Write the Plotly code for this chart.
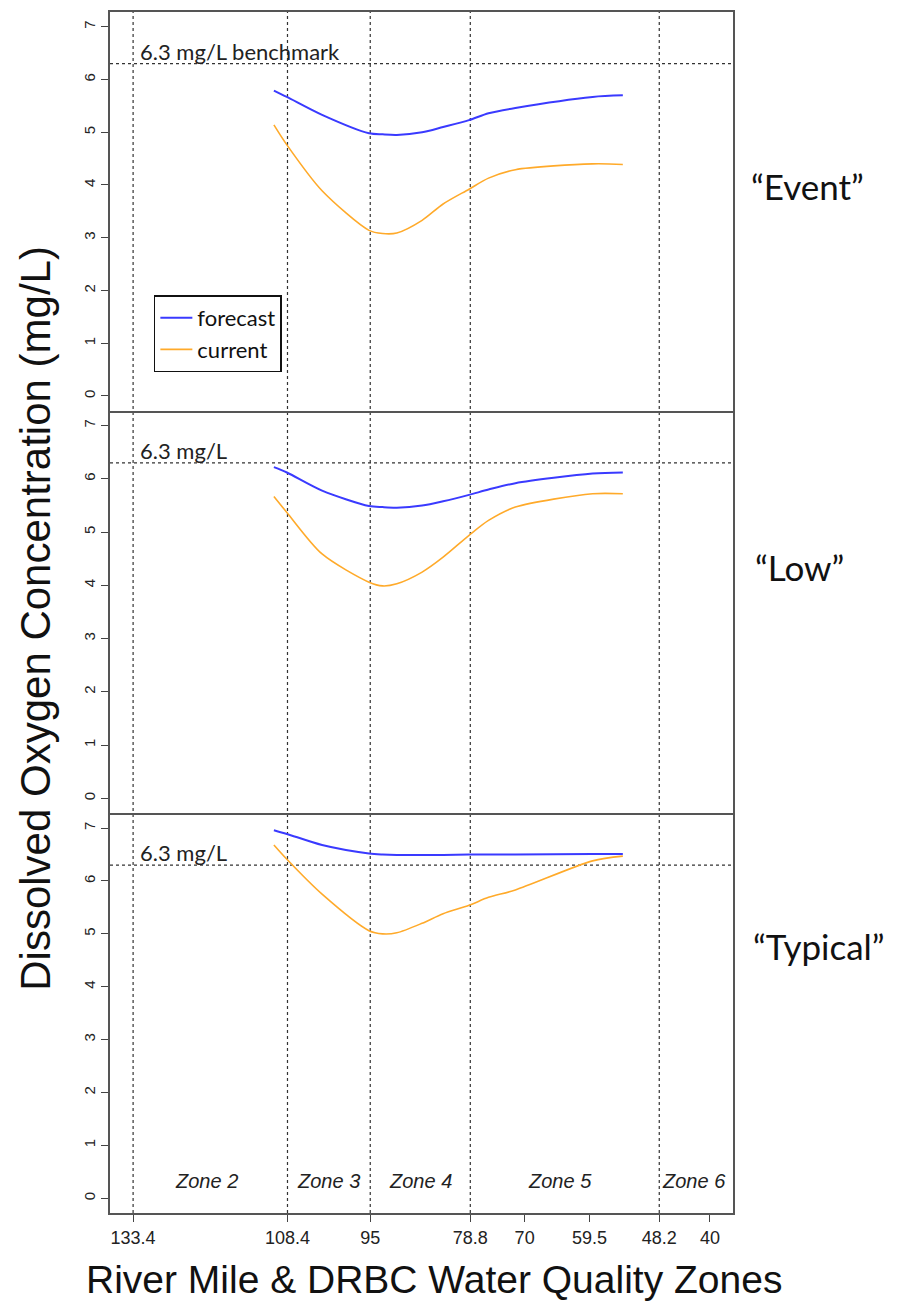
import plotly.graph_objects as go
from plotly.subplots import make_subplots

# ---- data ----
river_mile = [110.6, 108.5, 102.8, 95.2, 93.0, 90.7, 86.6, 83.2, 79.0, 75.85, 71.5, 59.0, 54.1]

event_forecast = [5.79, 5.67, 5.33, 4.98, 4.96, 4.95, 5.00, 5.10, 5.23, 5.36, 5.46, 5.67, 5.70]
event_current = [5.14, 4.76, 3.89, 3.14, 3.08, 3.09, 3.33, 3.64, 3.92, 4.13, 4.29, 4.40, 4.39]

low_forecast = [6.22, 6.12, 5.78, 5.49, 5.47, 5.46, 5.50, 5.58, 5.70, 5.80, 5.92, 6.10, 6.12]
low_current = [5.67, 5.37, 4.59, 4.06, 3.99, 4.03, 4.25, 4.53, 4.94, 5.22, 5.47, 5.72, 5.72]

typical_forecast = [6.96, 6.89, 6.68, 6.52, 6.50, 6.49, 6.49, 6.49, 6.50, 6.50, 6.50, 6.51, 6.51]
typical_current = [6.68, 6.41, 5.75, 5.06, 5.00, 5.02, 5.20, 5.38, 5.54, 5.69, 5.83, 6.38, 6.47]

x_ticks = [133.4, 108.4, 95, 78.8, 70, 59.5, 48.2, 40]
x_tick_labels = ["133.4", "108.4", "95", "78.8", "70", "59.5", "48.2", "40"]
zone_bounds = [133.4, 108.4, 95, 78.8, 48.2]
zone_names = ["Zone 2", "Zone 3", "Zone 4", "Zone 5", "Zone 6"]
zone_centers = [121.5, 101.7, 86.9, 64.2, 42.6]
benchmark = 6.3
benchmark_labels = ["6.3 mg/L benchmark", "6.3 mg/L", "6.3 mg/L"]
scenario_names = ["\u201cEvent\u201d", "\u201cLow\u201d", "\u201cTypical\u201d"]
y_ticks = [0, 1, 2, 3, 4, 5, 6, 7]

BLUE = "#3a3aff"
ORANGE = "#ffaa2a"

fig = make_subplots(rows=3, cols=1, shared_xaxes=True, vertical_spacing=0)

panels = [(event_forecast, event_current), (low_forecast, low_current),
          (typical_forecast, typical_current)]
for i, (fc, cu) in enumerate(panels):
    fig.add_trace(go.Scatter(x=river_mile, y=fc, mode="lines", name="forecast",
                             line=dict(color=BLUE, width=2, shape="spline", smoothing=0.8),
                             showlegend=(i == 0)), row=i + 1, col=1)
    fig.add_trace(go.Scatter(x=river_mile, y=cu, mode="lines", name="current",
                             line=dict(color=ORANGE, width=1.6, shape="spline", smoothing=0.8),
                             showlegend=(i == 0)), row=i + 1, col=1)

domains = [[0.668, 1.0], [0.3328, 0.668], [0.0, 0.3328]]
yrange = [-0.28, 7.28]
xrange_ = [137.14, 36.26]

layout_axes = {}
for i in range(3):
    yname = "yaxis" if i == 0 else f"yaxis{i+1}"
    xname = "xaxis" if i == 0 else f"xaxis{i+1}"
    layout_axes[yname] = dict(
        domain=domains[i], range=yrange, tickvals=y_ticks, ticks="outside",
        ticklen=7, tickcolor="#444", tickangle=-90, showgrid=False, zeroline=False,
        showline=True, linecolor="#555", linewidth=1.8, mirror=True,
        tickfont=dict(family="Liberation Sans, Arial", size=15, color="#222"),
    )
    layout_axes[xname] = dict(
        range=xrange_, showgrid=False, zeroline=False, showline=True,
        linecolor="#555", linewidth=2.2, mirror=(i == 0),
        tickvals=x_ticks, ticktext=x_tick_labels,
        ticks="outside" if i == 2 else "", ticklen=7, tickcolor="#444",
        showticklabels=(i == 2),
        tickfont=dict(family="Liberation Sans, Arial", size=18, color="#222"),
    )
fig.update_layout(**layout_axes)

shapes = []
# vertical dotted zone lines across all panels
for xb in zone_bounds:
    shapes.append(dict(type="line", xref="x", yref="paper", x0=xb, x1=xb, y0=0, y1=1,
                       line=dict(color="#333", width=1.2, dash="dot"), layer="below"))

annotations = []
scenario_x = [1.12, 1.107, 1.138]
scenario_y = [0.855, 0.538, 0.222]
for i in range(3):
    yref = "y" if i == 0 else f"y{i+1}"
    shapes.append(dict(type="line", xref="paper", yref=yref, x0=0, x1=1,
                       y0=benchmark, y1=benchmark,
                       line=dict(color="#333", width=1.2, dash="dot"), layer="below"))
    annotations.append(dict(x=132.6, y=benchmark, xref="x", yref=yref, xanchor="left",
                            yanchor="bottom", text=benchmark_labels[i], showarrow=False,
                            font=dict(family="Lato, Open Sans", size=22, color="#222"),
                            yshift=-3))
    annotations.append(dict(x=scenario_x[i], y=scenario_y[i],
                            xref="paper", yref="paper", xanchor="center", yanchor="middle",
                            text=scenario_names[i], showarrow=False,
                            font=dict(family="Lato, Open Sans", size=35, color="#111")))

for zn, zc in zip(zone_names, zone_centers):
    annotations.append(dict(x=zc, y=0.33, xref="x", yref="y3", text=f"<i>{zn}</i>",
                            showarrow=False, xanchor="center", yanchor="middle",
                            font=dict(family="Liberation Sans, Arial", size=20, color="#222")))

annotations.append(dict(x=-0.12, y=0.495, xref="paper", yref="paper", textangle=-90,
                        text="Dissolved Oxygen Concentration (mg/L)", showarrow=False,
                        xanchor="center", yanchor="middle",
                        font=dict(family="Liberation Sans, Arial", size=42, color="#111")))
annotations.append(dict(x=0.52, y=-0.0555, xref="paper", yref="paper",
                        text="River Mile & DRBC Water Quality Zones", showarrow=False,
                        xanchor="center", yanchor="middle",
                        font=dict(family="Liberation Sans, Arial", size=39, color="#111")))

fig.update_layout(
    width=898, height=1295,
    margin=dict(l=102, r=173, t=2, b=90),
    plot_bgcolor="white", paper_bgcolor="white",
    shapes=shapes, annotations=annotations,
    legend=dict(x=0.0704, y=0.764, xref="paper", yref="paper", xanchor="left", yanchor="top",
                bordercolor="#111", borderwidth=1.5, bgcolor="white",
                font=dict(family="Lato, Open Sans", size=22, color="#111"),
                tracegroupgap=0, itemwidth=32),
    showlegend=True,
)

fig.write_html("out.html")
